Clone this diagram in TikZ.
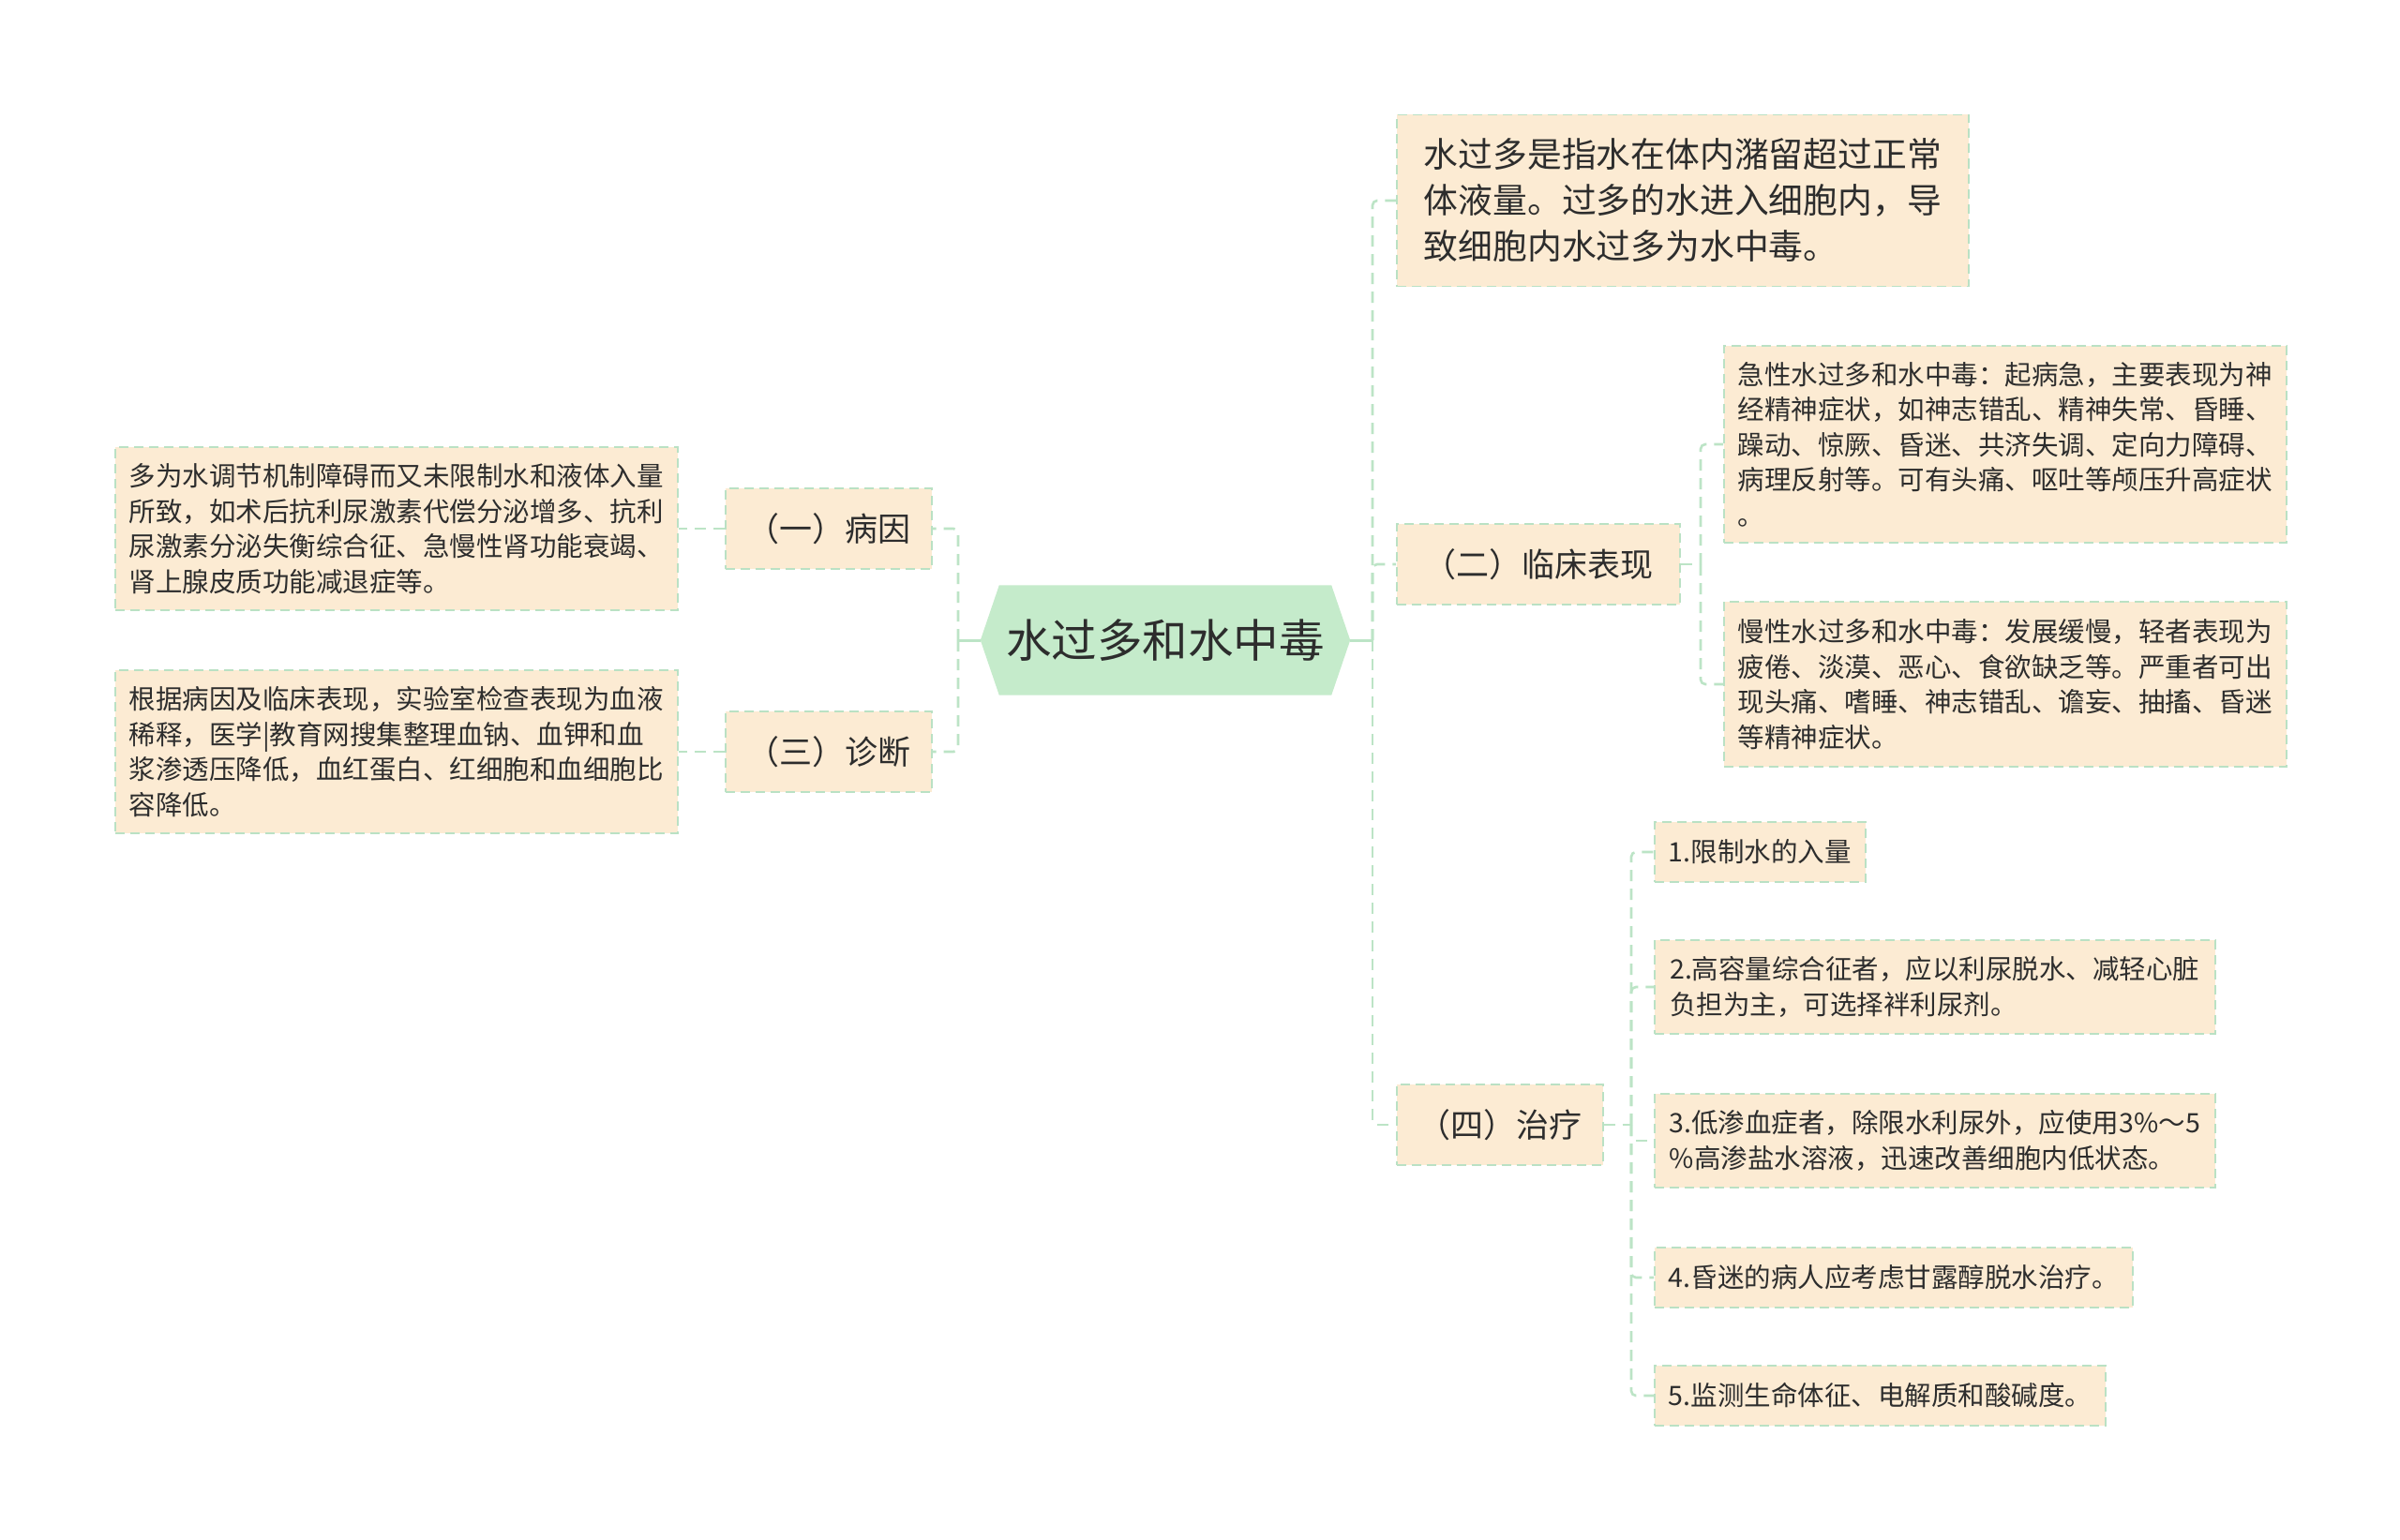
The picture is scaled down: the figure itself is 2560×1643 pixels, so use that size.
\documentclass[tikz,border=0pt]{standalone}
\usepackage{fontspec}
\setmainfont{Noto Sans CJK SC}
\usetikzlibrary{backgrounds}

\definecolor{boxfill}{RGB}{252,235,211}
\definecolor{boxline}{RGB}{186,225,196}
\definecolor{rootfill}{RGB}{197,235,203}
\definecolor{linkgreen}{RGB}{188,228,198}
\definecolor{ink}{RGB}{45,45,45}

\begin{document}
\begin{tikzpicture}[x=1pt, y=-1pt,
    leafbox/.style={draw=boxline, fill=boxfill, dash pattern=on 10pt off 6pt,
      line width=1.6pt, align=left, anchor=west, inner xsep=15pt, inner ysep=0pt,
      text=ink, font=\fontsize{28.5}{37.5}\selectfont},
    branchbox/.style={leafbox, align=center, font=\fontsize{35}{42}\selectfont},
    rootbox/.style={inner sep=0pt, minimum width=354pt, minimum height=117pt,
      text=ink, font=\fontsize{48.5}{56}\selectfont},
    link/.style={draw=linkgreen, line width=2.6pt, dash pattern=on 12pt off 8pt,
      rounded corners=5pt},
    rootlink/.style={draw=linkgreen, line width=3pt},
  ]
  \useasboundingbox (0,0) rectangle (2560,1643);

  % centre
  \node[rootbox] (root) at (1243,683) {水过多和水中毒};

  % left side
  \node[branchbox, minimum width=220pt, minimum height=86pt] (cause) at (773,564) {（一）病因};
  \node[branchbox, minimum width=220pt, minimum height=86pt] (diag) at (773,802) {（三）诊断};
  \node[leafbox, minimum width=600pt, minimum height=174pt] (causetext) at (122,564)
    {多为水调节机制障碍而又未限制水和液体入量\\所致，如术后抗利尿激素代偿分泌增多、抗利\\尿激素分泌失衡综合征、急慢性肾功能衰竭、\\肾上腺皮质功能减退症等。};
  \node[leafbox, minimum width=600pt, minimum height=174pt] (diagtext) at (122,802)
    {根据病因及临床表现，实验室检查表现为血液\\稀释，医学|教育网搜集整理血钠、血钾和血\\浆渗透压降低，血红蛋白、红细胞和血细胞比\\容降低。};

  % right side
  \node[leafbox, font=\fontsize{36.8}{49}\selectfont, minimum width=610pt, minimum height=183pt] (define) at (1489,214)
    {水过多是指水在体内潴留超过正常\\体液量。过多的水进入细胞内，导\\致细胞内水过多为水中毒。};
  \node[branchbox, minimum width=302pt, minimum height=86pt] (clinic) at (1489,602) {（二）临床表现};
  \node[branchbox, minimum width=220pt, minimum height=86pt] (treat) at (1489,1200) {（四）治疗};

  \node[leafbox, minimum width=598pt, minimum height=210pt] (acute) at (1838,474)
    {急性水过多和水中毒：起病急，主要表现为神\\经精神症状，如神志错乱、精神失常、昏睡、\\躁动、惊厥、昏迷、共济失调、定向力障碍、\\病理反射等。可有头痛、呕吐等颅压升高症状\\。};
  \node[leafbox, minimum width=598pt, minimum height=176pt] (chronic) at (1838,730)
    {慢性水过多和水中毒：发展缓慢，轻者表现为\\疲倦、淡漠、恶心、食欲缺乏等。严重者可出\\现头痛、嗜睡、神志错乱、谵妄、抽搐、昏迷\\等精神症状。};

  \node[leafbox, minimum width=225pt, minimum height=64pt] (step1) at (1764,909) {1.限制水的入量};
  \node[leafbox, minimum width=598pt, minimum height=100pt] (step2) at (1764,1053)
    {2.高容量综合征者，应以利尿脱水、减轻心脏\\负担为主，可选择袢利尿剂。};
  \node[leafbox, minimum width=598pt, minimum height=100pt] (step3) at (1764,1217)
    {3.低渗血症者，除限水利尿外，应使用3\%～5\\\%高渗盐水溶液，迅速改善细胞内低状态。};
  \node[leafbox, minimum width=510pt, minimum height=64pt] (step4) at (1764,1363) {4.昏迷的病人应考虑甘露醇脱水治疗。};
  \node[leafbox, minimum width=481pt, minimum height=64pt] (step5) at (1764,1489) {5.监测生命体征、电解质和酸碱度。};

  \begin{scope}[on background layer]
    \fill[white] (0,0) rectangle (2560,1643);
    \fill[rootfill] (root.north west) -- (root.north east) -- ([xshift=20pt]root.east)
      -- (root.south east) -- (root.south west) -- ([xshift=-20pt]root.west) -- cycle;
  \end{scope}

  % connectors
  \coordinate (lj) at (1022,683);
  \coordinate (rj) at (1464,683);
  \coordinate (cj) at (1814,602);
  \coordinate (tj) at (1740,1200);

  \draw[rootlink] ([xshift=-20pt]root.west) -- (lj);
  \draw[rootlink] ([xshift=20pt]root.east) -- (rj);
  \draw[link] (lj) |- (cause.east);
  \draw[link] (lj) |- (diag.east);
  \draw[link] (cause.west) -- (causetext.east);
  \draw[link] (diag.west) -- (diagtext.east);

  \draw[link] (rj) |- (define.west);
  \draw[link] (rj) |- (clinic.west);
  \draw[link] (rj) |- (treat.west);

  \draw[link] (clinic.east) -- (cj);
  \draw[link] (cj) |- (acute.west);
  \draw[link] (cj) |- (chronic.west);

  \draw[link] (treat.east) -- (tj);
  \foreach \s in {step1,step2,step3,step4,step5}
    \draw[link] (tj) |- (\s.west);

\end{tikzpicture}
\end{document}
